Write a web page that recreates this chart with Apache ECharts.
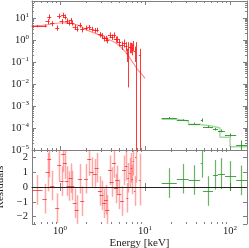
<!DOCTYPE html>
<html><head><meta charset="utf-8">
<script src="https://cdn.jsdelivr.net/npm/echarts@6/dist/echarts.min.js"></script>
<style>html,body{margin:0;padding:0;background:#fff}#c{width:249px;height:248px}</style>
</head><body><div id="c"></div>
<script>
// ---- data ----
const redE = [0.54,0.66,0.717,0.749,0.812,0.929,0.981,1.047,1.094,1.145,1.199,1.266,1.336,1.395,1.489,1.572,1.719,1.83,2.02,2.21,2.36,2.58,2.70,2.95,3.09,3.29,3.47,3.60,3.87,4.05,4.32,4.55,4.72,4.98,5.36,5.66,6.02,6.19,6.32,6.59,6.90,7.08,7.30,7.56,7.76,8.65];
const redEw = [0.085,0.04,0.04,0.04,0.045,0.05,0.055,0.057,0.06,0.063,0.066,0.07,0.073,0.077,0.082,0.086,0.095,0.1,0.11,0.12,0.13,0.14,0.15,0.16,0.17,0.18,0.19,0.2,0.21,0.22,0.24,0.25,0.26,0.27,0.29,0.31,0.2,0.15,0.15,0.15,0.15,0.15,0.15,0.15,0.15,0.2];
const redF = [4.3,4.4,7.0,11.5,5.7,3.6,12.3,7.0,13.7,11.5,7.5,6.0,8.0,6.0,4.0,3.3,4.8,3.0,3.6,3.8,3.2,2.8,2.9,1.8,1.6,1.2,1.2,1.0,1.7,1.4,1.7,1.1,1.1,0.8,0.6,0.75,0.55,0.25,0.4,0.5,0.5,0.45,0.6,0.3,0.4,0.2];
const redFerr = [0.5,0.6,1.8,3.0,1.5,1.0,3.2,1.8,3.5,3.0,2.0,1.5,2.0,1.5,1.0,0.9,1.2,0.8,0.9,1.0,0.8,0.7,0.7,0.5,0.45,0.35,0.35,0.3,0.5,0.4,0.5,0.35,0.35,0.3,0.25,0.3,0.25,0.15,0.393,0.25,0.25,0.25,0.3,0.2,0.4,0.2];
const redRes = [-0.2,-0.8,1.0,1.86,0.1,-1.43,1.47,0.4,2.2,1.65,0.4,0.07,0.6,0.1,-1.1,-1.55,0.56,-0.95,0.56,1.86,1.0,0.9,1.3,-0.27,-0.57,-1.1,-0.86,-1.55,1.13,0.34,1.63,-0.1,0.45,-0.5,-0.95,1.13,1.43,-0.73,0.63,0.97,1.31,0.52,1.77,-0.27,2.0,0.5];
const redResErr = [1.0,1.0,1.3,1.2,1.0,1.0,1.1,1.0,1.2,1.1,1.0,1.0,1.0,1.0,1.0,1.0,1.0,1.0,1.0,1.1,1.0,1.0,1.0,1.0,1.0,1.0,1.0,1.0,1.0,1.0,1.0,1.0,1.0,1.0,1.0,1.0,1.0,1.0,1.0,1.0,1.0,1.0,1.0,1.0,1.7,1.75];
const redModelE = [0.46,0.63,0.72,0.85,1.0,1.2,1.4,1.6,1.8,2.0,2.3,2.7,3.0,3.5,4.0,4.5,5.0,5.5,6.0,6.5,7.0,7.5,8.0,9.0,10.0];
const redModelF = [4.3,4.6,5.0,5.6,5.9,6.0,5.5,4.8,4.0,3.0,2.4,1.9,1.6,1.2,0.95,0.75,0.55,0.38,0.26,0.17,0.11,0.075,0.05,0.03,0.018];

const greenElo = [15.7,23.6,32.5,45.2,48,63,72,87,118];
const greenEhi = [23.6,32.5,44.5,47.2,63,72,87,118,158];
const greenE = [19.3,27.7,38,46.2,55,67.3,79,101,136];
const greenF = [2.9e-4,2.3e-4,1.6e-4,2.3e-4,1.15e-4,8.9e-5,7.5e-5,4.8e-5,1.7e-5];
const greenFerr = [0.25e-4,0.2e-4,0.15e-4,0.4e-4,0.15e-4,1.2e-5,1.1e-5,0.8e-5,1.0e-5];
const greenRes = [0.27,0.56,0.47,1.6,-0.27,0.82,0.9,0.75,0.45];
const greenResErr = [1.0,1.0,1.0,0.97,1.0,1.0,1.05,1.0,1.0];
const greenModelE = [15.7,23.6,32.5,44.5,63,76,100,158];
const greenModelF = [2.5e-4,2.1e-4,1.45e-4,1.2e-4,1.0e-4,3.8e-5,1.4e-5,1.4e-5];

const xMajor = [1,10,100];
const yMajorTop = [1e-5,1e-4,1e-3,1e-2,1e-1,1,10];
const resTicks = [-2,-1,0,1,2];

// ---- helpers ----
const X_MIN = 0.469, X_MAX = 158, Y_MIN = 1e-5, Y_MAX = 59;
const serif = 'Liberation Serif';
const axisCol = '#7f7f7f';

function minorsLog(lo, hi){
  const out=[];
  for(let k=Math.floor(Math.log10(lo));k<=Math.ceil(Math.log10(hi));k++){
    for(let m=2;m<=9;m++){const v=m*Math.pow(10,k); if(v>lo&&v<hi) out.push([v]);}
  }
  return out;
}
function supLabel(v){
  const l=Math.log10(v), k=Math.round(l);
  if(Math.abs(l-k)>1e-6) return '';
  return '{b|10}{s|'+(k<0?'\u2212'+(-k):k)+'}';
}
const richLab = {b:{fontFamily:serif,fontSize:10.5,color:'#222'},s:{fontFamily:serif,fontSize:7,color:'#222',verticalAlign:'top',padding:[0,0,6,0]}};

function errRender(color, vColor, lw, vlw, isLog){
  return function(params, api){
    const cs = params.coordSys;
    const x=api.value(0), xl=api.value(1), xh=api.value(2), y=api.value(3), yl=api.value(4), yh=api.value(5);
    const c=api.coord([x,y]), l=api.coord([xl,y]), r=api.coord([xh,y]);
    const t=api.coord([x,yh]);
    let bb = (isLog && yl<=0) ? cs.y+cs.height : api.coord([x,yl])[1];
    let tb=t[1];
    if(!isFinite(bb)||bb>cs.y+cs.height) bb=cs.y+cs.height;
    if(tb<cs.y) tb=cs.y;
    const cx=Math.round(c[0])+0.5, cy=Math.round(c[1])+0.5;
    const ch=[];
    if(bb>tb) ch.push({type:'line',shape:{x1:cx,y1:tb,x2:cx,y2:bb},style:{stroke:vColor,lineWidth:vlw}});
    if(cy>=cs.y && cy<=cs.y+cs.height) ch.push({type:'line',shape:{x1:Math.max(l[0],cs.x),y1:cy,x2:Math.min(r[0],cs.x+cs.width),y2:cy},style:{stroke:color,lineWidth:lw}});
    return {type:'group',children:ch};
  };
}

const redTop = redE.map((e,i)=>[e,e-redEw[i],e+redEw[i],redF[i],redF[i]-redFerr[i],redF[i]+redFerr[i]]);
const redBot = redE.map((e,i)=>[e,e-redEw[i],e+redEw[i],redRes[i],redRes[i]-redResErr[i],redRes[i]+redResErr[i]]);
const greenTop = greenE.map((e,i)=>[e,greenElo[i],greenEhi[i],greenF[i],greenF[i]-greenFerr[i],greenF[i]+greenFerr[i]]);
const greenBot = greenE.map((e,i)=>[e,greenElo[i],greenEhi[i],greenRes[i],greenRes[i]-greenResErr[i],greenRes[i]+greenResErr[i]]);

function xAx(grid,pos,show){
  return {type:'log',logBase:10,gridIndex:grid,position:pos,min:X_MIN,max:X_MAX,
    axisLine:{show:true,lineStyle:{color:axisCol,width:1}},
    axisTick:{show:true,inside:true,length:4,lineStyle:{color:axisCol}},
    axisLabel:{show:show,formatter:supLabel,rich:richLab,margin:1,showMinLabel:false,showMaxLabel:false},
    splitLine:{show:false}};
}
const tickSeries = [];
function minorX(xi, yi, yv){
  tickSeries.push({type:'custom',xAxisIndex:xi,yAxisIndex:yi,silent:true,z:5,data:minorsLog(X_MIN,X_MAX),
    renderItem:function(params,api){const cs=params.coordSys; const p=api.coord([api.value(0),yv]); const x=Math.round(p[0])+0.5;
      return {type:'group',children:[
        {type:'line',shape:{x1:x,y1:cs.y+cs.height,x2:x,y2:cs.y+cs.height-2},style:{stroke:axisCol,lineWidth:1}},
        {type:'line',shape:{x1:x,y1:cs.y,x2:x,y2:cs.y+2},style:{stroke:axisCol,lineWidth:1}}]};}});
}
minorX(0,0,1); minorX(2,2,0);
tickSeries.push({type:'custom',xAxisIndex:0,yAxisIndex:0,silent:true,z:5,data:minorsLog(Y_MIN,Y_MAX).map(d=>[1,d[0]]),
  renderItem:function(params,api){const cs=params.coordSys; const p=api.coord([1,api.value(1)]); const y=Math.round(p[1])+0.5;
    return {type:'group',children:[
      {type:'line',shape:{x1:cs.x,y1:y,x2:cs.x+2,y2:y},style:{stroke:axisCol,lineWidth:1}},
      {type:'line',shape:{x1:cs.x+cs.width,y1:y,x2:cs.x+cs.width-2,y2:y},style:{stroke:axisCol,lineWidth:1}}]};}});

const nameStyle = {fontFamily:serif,fontSize:11,color:'#222'};
const option = {
  animation:false,
  grid:[{left:32,right:2,top:1,height:149,outerBoundsMode:'none',containLabel:false},
        {left:32,right:2,top:150,height:74,outerBoundsMode:'none',containLabel:false}],
  xAxis:[xAx(0,'bottom',false),xAx(0,'top',false),
    Object.assign(xAx(1,'bottom',true),{name:'Energy [keV]',nameLocation:'middle',nameGap:10,nameTextStyle:nameStyle}),
    xAx(1,'top',false)],
  yAxis:[
    {type:'log',logBase:10,gridIndex:0,position:'left',min:Y_MIN,max:Y_MAX,
      axisLine:{show:true,lineStyle:{color:axisCol}},axisTick:{inside:true,length:4,lineStyle:{color:axisCol}},
      axisLabel:{formatter:supLabel,rich:richLab,margin:3,showMaxLabel:false},splitLine:{show:false},
      name:'Normalized counts keV{s|\u22121} s{s|\u22121} cm{s|\u22122}',nameLocation:'middle',nameGap:22,nameRotate:90,
      nameTextStyle:Object.assign({},nameStyle,{rich:{s:{fontFamily:serif,fontSize:7.5,color:'#222',verticalAlign:'top',padding:[0,0,6,0]}}})},
    {type:'log',logBase:10,gridIndex:0,position:'right',min:Y_MIN,max:Y_MAX,
      axisLine:{show:true,lineStyle:{color:axisCol}},axisTick:{inside:true,length:4,lineStyle:{color:axisCol}},
      axisLabel:{show:false},splitLine:{show:false}},
    {type:'value',gridIndex:1,position:'left',min:-2.5,max:2.5,
      axisLine:{show:true,lineStyle:{color:axisCol}},axisTick:{inside:true,length:4,lineStyle:{color:axisCol}},
      axisLabel:{formatter:v=>resTicks.indexOf(v)<0?'':(v<0?'\u2212'+(-v):String(v)),fontFamily:serif,fontSize:10.5,color:'#222',margin:4},
      splitLine:{show:false},name:'Residuals',nameLocation:'middle',nameGap:20,nameRotate:90,nameTextStyle:nameStyle},
    {type:'value',gridIndex:1,position:'right',min:-2.5,max:2.5,
      axisLine:{show:true,lineStyle:{color:axisCol}},axisTick:{inside:true,length:4,lineStyle:{color:axisCol}},
      axisLabel:{show:false},splitLine:{show:false}}
  ],
  series:[
    {type:'line',xAxisIndex:0,yAxisIndex:0,data:redModelE.map((e,i)=>[e,redModelF[i]]),showSymbol:false,
      lineStyle:{color:'rgba(255,70,70,0.6)',width:1.2},z:2},
    {type:'line',xAxisIndex:0,yAxisIndex:0,step:'end',data:greenModelE.map((e,i)=>[e,greenModelF[i]]),showSymbol:false,
      lineStyle:{color:'rgba(60,170,60,0.45)',width:1.5},z:2},
    {type:'custom',xAxisIndex:0,yAxisIndex:0,data:redTop,renderItem:errRender('rgba(255,20,20,0.85)','rgba(255,20,20,0.85)',1,1,true),z:3},
    {type:'custom',xAxisIndex:0,yAxisIndex:0,data:greenTop,renderItem:errRender('rgba(40,150,40,0.9)','rgba(40,150,40,0.9)',1,1,true),z:3},
    {type:'custom',xAxisIndex:2,yAxisIndex:2,data:redBot,renderItem:errRender('rgba(240,40,40,0.75)','rgba(255,60,60,0.45)',1,1.5,false),z:3,
      markLine:{silent:true,symbol:'none',label:{show:false},lineStyle:{color:'#222',type:'solid',width:1},data:[{yAxis:0}]}},
    {type:'custom',xAxisIndex:2,yAxisIndex:2,data:greenBot,renderItem:errRender('rgba(40,150,40,0.85)','rgba(40,150,40,0.7)',1,1.2,false),z:3}
  ].concat(tickSeries)
};
const chart = echarts.init(document.getElementById('c'),null,{renderer:'canvas'});
chart.setOption(option);
</script></body></html>
